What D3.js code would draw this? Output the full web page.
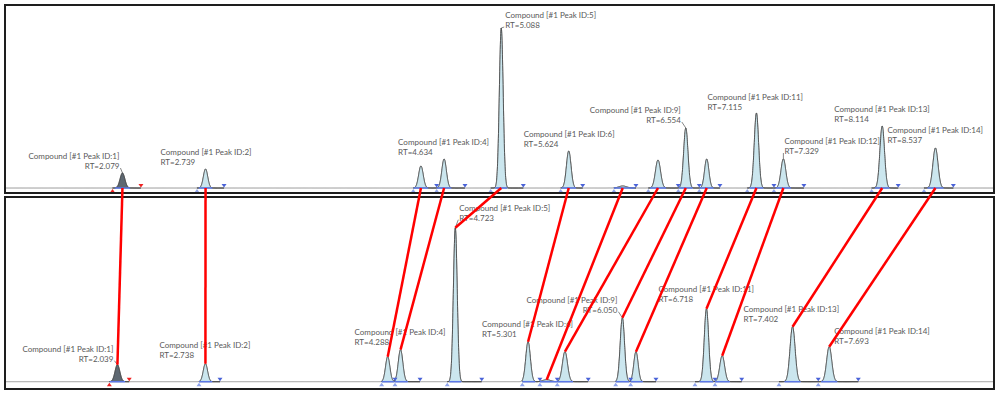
<!DOCTYPE html>
<html>
<head>
<meta charset="utf-8">
<style>
    body { margin: 0; background: #fff; }
    svg text { font-family: Lato, "Open Sans", sans-serif; font-size: 8px; fill: #595959; }
</style>
</head>
<body>
<svg id="chart" width="1000" height="396"></svg>
<script src="https://d3js.org/d3.v7.min.js"></script>
<script>
    // peak table, 14 peaks in both runs
    const peakIds = [1, 2, 3, 4, 5, 6, 7, 8, 9, 10, 11, 12, 13, 14];

    // reference run (top trace) - retention time in min, height in arbitrary units
    const topRT = [2.079, 2.739, 4.450, 4.634, 5.088, 5.624, 6.053, 6.333, 6.554, 6.720, 7.115, 7.329, 8.114, 8.537];
    const topHeight = [15, 19, 22, 29, 160, 37, 2, 28, 60, 29, 75, 29, 62, 40];
    const topWidth = [0.019, 0.017, 0.018, 0.018, 0.015, 0.018, 0.03, 0.02, 0.017, 0.017, 0.017, 0.019, 0.018, 0.02];
    const topStart = [2.000, 2.671, 4.389, 4.575, 5.004, 5.560, 5.983, 6.256, 6.494, 6.661, 7.042, 7.254, 8.030, 8.446];
    const topEnd = [2.226, 2.886, 4.575, 4.800, 5.263, 5.735, 6.158, 6.494, 6.661, 6.825, 7.254, 7.492, 8.241, 8.679];
    const topLabelled = [1, 2, 4, 5, 6, 9, 11, 12, 13, 14];

    // sample run (bottom trace)
    const botRT = [2.039, 2.738, 4.186, 4.288, 4.723, 5.301, 5.449, 5.594, 6.050, 6.158, 6.718, 6.843, 7.402, 7.693];
    const botHeight = [17, 18, 25, 32, 154, 40, 2, 30, 64, 30, 73, 26, 55, 35];
    const botWidth = [0.019, 0.017, 0.017, 0.018, 0.015, 0.018, 0.03, 0.02, 0.017, 0.017, 0.017, 0.019, 0.02, 0.02];
    const botStart = [1.975, 2.687, 4.138, 4.244, 4.659, 5.255, 5.395, 5.533, 5.997, 6.116, 6.627, 6.786, 7.294, 7.606];
    const botEnd = [2.133, 2.854, 4.244, 4.443, 4.933, 5.395, 5.533, 5.779, 6.116, 6.317, 6.786, 6.998, 7.606, 7.924];
    const botLabelled = [1, 2, 4, 5, 6, 9, 11, 13, 14];

    // label placement relative to the apex: [dx, dy, anchor, leader]
    const topLabelPos = {
        1: [-3, -17, "end", true], 2: [-45, -17, "start", false], 4: [-46, -17, "start", false],
        5: [4, -13, "start", true], 6: [-45, -17, "start", false], 9: [-5, -18, "end", true],
        11: [-49, -16, "start", false], 12: [1, -18, "start", true], 13: [-48, -17, "start", false],
        14: [-48, -18, "start", false]
    };
    const botLabelPos = {
        1: [-4, -16, "end", true], 2: [-46, -19, "start", false], 4: [-46, -18, "start", false],
        5: [4, -20, "start", true], 6: [-46, -18, "start", false], 9: [-5, -18, "end", true],
        11: [-48, -20, "start", false], 13: [-49, -18, "start", false], 14: [5, -16, "start", false]
    };

    const svg = d3.select("#chart");
    const x = d3.scaleLinear().domain([1.146, 9.01]).range([5, 995]);

    const panels = [
        { top: 5, bottom: 193, base: 188, rt: topRT, h: topHeight, w: topWidth, s: topStart, e: topEnd,
          labelled: topLabelled, labelPos: topLabelPos },
        { top: 197, bottom: 389, base: 381.7, rt: botRT, h: botHeight, w: botWidth, s: botStart, e: botEnd,
          labelled: botLabelled, labelPos: botLabelPos }
    ];

    panels.forEach((p, pi) => {
        p.y = d3.scaleLinear().domain([0, 180]).range([p.base, p.base - 180]);
        p.peaks = peakIds.map((id, i) => ({ id, rt: p.rt[i], h: p.h[i], w: p.w[i], s: p.s[i], e: p.e[i] }));
        let signal = (t) => d3.sum(p.peaks, (k) => k.h * Math.exp(-((t - k.rt) ** 2) / (2 * k.w * k.w)));

        svg.append("clipPath").attr("id", "clip" + pi)
            .append("rect").attr("x", 5).attr("y", p.top).attr("width", 989).attr("height", p.bottom - p.top);
        let g = svg.append("g").attr("clip-path", "url(#clip" + pi + ")");

        // whole trace
        let trace = d3.range(1.15, 9.01, 0.002).map((t) => [t, signal(t)]);
        g.append("path")
            .attr("d", d3.line().x((d) => x(d[0])).y((d) => p.y(d[1]))(trace))
            .attr("fill", "none").attr("stroke", "#8a8a8a").attr("stroke-width", 1);

        // filled peaks
        let area = d3.area().x((d) => x(d[0])).y0(p.y(0)).y1((d) => p.y(d[1]));
        p.peaks.forEach((k) => {
            let pts = d3.range(k.s, k.e, 0.001).map((t) => [t, signal(t)]);
            g.append("path").attr("d", area(pts))
                .attr("fill", k.id == 1 ? "#5e6872" : "#cbe6ee")
                .attr("stroke", "#3c3c3c").attr("stroke-width", 0.8);
        });

        // baseline segment under each peak
        p.peaks.forEach((k) => {
            let a = Math.max(k.s, k.rt - 3.2 * k.w), b = Math.min(k.e, k.rt + 3.2 * k.w);
            g.append("line")
                .attr("x1", x(a)).attr("x2", x(b)).attr("y1", p.y(0)).attr("y2", p.y(0))
                .attr("stroke", "#5b78e8").attr("stroke-width", 1.5);
        });

        // start / end markers
        let tri = (cx, cy, up) => up
            ? `M${cx - 2.5},${cy + 3.5}L${cx + 2.5},${cy + 3.5}L${cx},${cy}Z`
            : `M${cx - 2.5},${cy - 3.5}L${cx + 2.5},${cy - 3.5}L${cx},${cy}Z`;
        p.peaks.forEach((k) => {
            g.append("path").attr("d", tri(x(k.s), p.base + 1, true))
                .attr("fill", k.id == 1 ? "#ee2222" : "#8fa4ec");
            g.append("path").attr("d", tri(x(k.e), p.base - 0.5, false))
                .attr("fill", k.id == 1 ? "#ee2222" : "#4a63d8");
        });

        // panel frame
        svg.append("rect")
            .attr("x", 5).attr("y", p.top).attr("width", 989).attr("height", p.bottom - p.top)
            .attr("fill", "none").attr("stroke", "#1e1e1e").attr("stroke-width", 2);

        // labels
        let labels = svg.append("g");
        p.peaks.filter((k) => p.labelled.includes(k.id)).forEach((k) => {
            let [dx, dy, anchor, leader] = p.labelPos[k.id];
            let ax = x(k.rt), ay = p.y(k.h);
            let lx = ax + dx, ly = ay + dy;
            labels.append("text").attr("x", lx).attr("y", ly + 3).attr("text-anchor", anchor)
                .text("Compound [#1 Peak ID:" + k.id + "]");
            labels.append("text").attr("x", lx).attr("y", ly + 13).attr("text-anchor", anchor)
                .text("RT=" + k.rt.toFixed(3));
            if (leader) {
                let sx = anchor == "end" ? lx + 1 : lx - 1;
                labels.append("line")
                    .attr("x1", sx).attr("y1", ly + 12).attr("x2", ax).attr("y2", ay)
                    .attr("stroke", "#555").attr("stroke-width", 0.7);
            }
        });
    });

    // red links: reference peak base -> matched sample apex
    let [pt, pb] = panels;
    svg.append("g").selectAll("line").data(peakIds.map((id, i) => i))
        .join("line")
        .attr("x1", (i) => x(topRT[i])).attr("y1", pt.base)
        .attr("x2", (i) => x(botRT[i])).attr("y2", (i) => pb.y(botHeight[i]))
        .attr("stroke", "#ff0000").attr("stroke-width", 2.5);
</script>
</body>
</html>
